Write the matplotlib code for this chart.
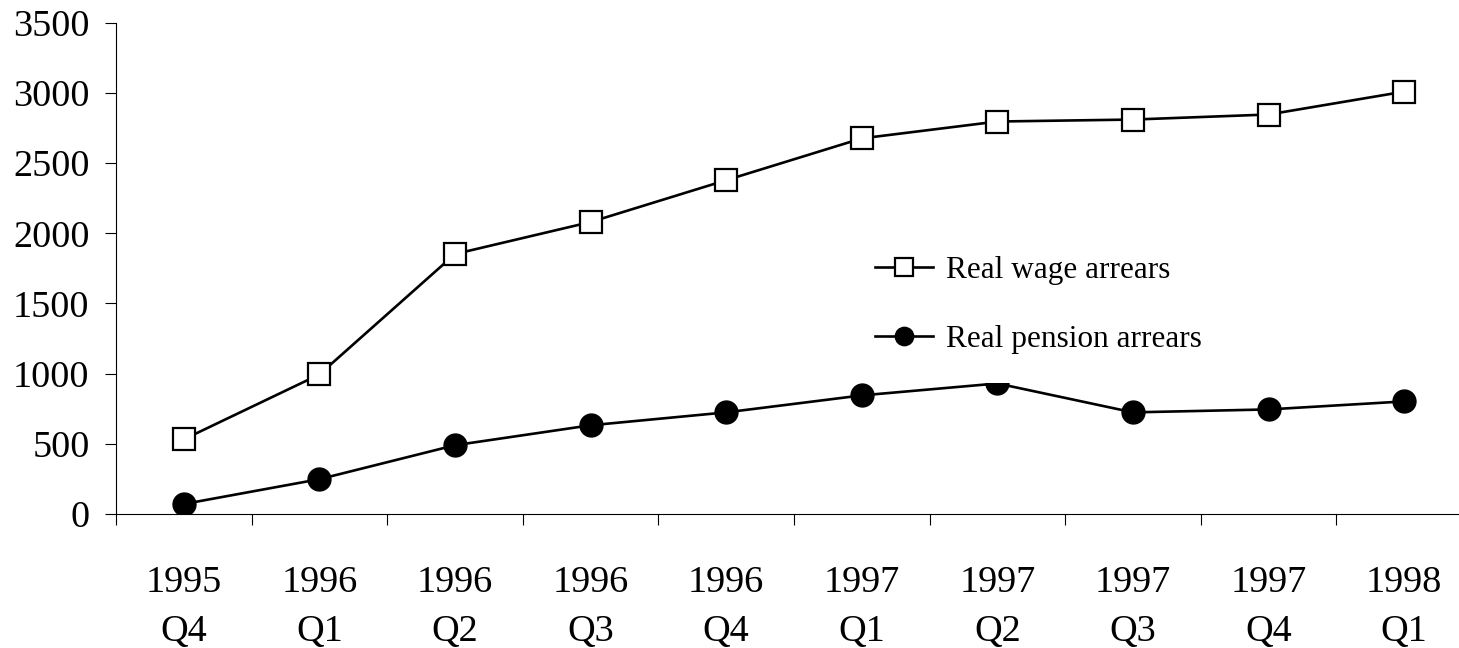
import matplotlib
matplotlib.use("Agg")
import matplotlib.pyplot as plt
import numpy as np

years = ["1995", "1996", "1996", "1996", "1996", "1997", "1997", "1997", "1997", "1998"]
quarters = ["Q4", "Q1", "Q2", "Q3", "Q4", "Q1", "Q2", "Q3", "Q4", "Q1"]
wage_arrears = [532, 994, 1852, 2080, 2378, 2676, 2796, 2810, 2846, 3009]
pension_arrears = [71, 248, 490, 632, 724, 845, 930, 724, 745, 802]
yticks = [0, 500, 1000, 1500, 2000, 2500, 3000, 3500]

plt.rcParams['font.family'] = ['Liberation Serif', 'DejaVu Serif']

fig = plt.figure(figsize=(14.59, 6.48), dpi=100)
ax = fig.add_axes([116/1459, 134/648, 1356/1459, (514-22.7)/648])

x = np.arange(len(years))
ax.plot(x, wage_arrears, color='black', lw=1.9, marker='s', markersize=15.5,
        markerfacecolor='white', markeredgecolor='black', markeredgewidth=1.6,
        label='Real wage arrears', zorder=3)
ax.plot(x, pension_arrears, color='black', lw=1.9, marker='o', markersize=16.5,
        markerfacecolor='black', markeredgecolor='black',
        label='Real pension arrears', zorder=3)

ax.set_xlim(-0.5, len(years) - 0.5)
ax.set_ylim(0, 3500)
ax.set_yticks(yticks)
ax.set_yticklabels([str(v) for v in yticks])
ax.set_xticks(x)
ax.set_xticklabels([f"{y}\n{q}" for y, q in zip(years, quarters)], linespacing=1.55)
ax.set_xticks(np.arange(len(years) + 1) - 0.5, minor=True)
ax.tick_params(axis='x', which='major', length=0, pad=37, labelsize=27.5)
ax.tick_params(axis='x', which='minor', length=8, width=0.8, direction='out')
ax.tick_params(axis='y', length=8, width=0.8, direction='out', pad=11, labelsize=27.5)

for s in ['top', 'right']:
    ax.spines[s].set_visible(False)
for s in ['left', 'bottom']:
    ax.spines[s].set_linewidth(0.8)
    ax.spines[s].set_color('black')
ax.spines['bottom'].set_clip_on(False)

leg = ax.legend(loc='upper left', bbox_to_anchor=(846/1459, 1 - 227/648),
                bbox_transform=fig.transFigure, frameon=True, fontsize=22.5,
                handlelength=1.85, handletextpad=0.42, labelspacing=1.3,
                borderpad=0.92, borderaxespad=0, markerscale=0.8, fancybox=False)
leg.get_frame().set_facecolor('white')
leg.get_frame().set_edgecolor('none')
leg.get_frame().set_alpha(1)
leg.set_zorder(5)

fig.savefig("out.png", dpi=100)
